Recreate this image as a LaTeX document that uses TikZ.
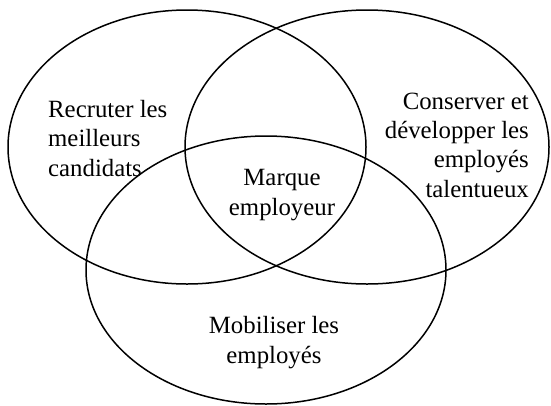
\documentclass[tikz,border=0pt]{standalone}
\usepackage{fontspec}
\setmainfont{Liberation Serif}
\begin{document}
\begin{tikzpicture}[x=1pt,y=-1pt,
  ring/.style={draw=black,line width=1.5pt},
  label/.style={inner sep=0pt,font=\fontsize{24.8}{29.3}\selectfont}]
  \useasboundingbox (0,0) rectangle (551,405);
  % the three overlapping sets
  \path[ring] (187,147) ellipse [x radius=179pt, y radius=137pt];
  \path[ring] (367,147) ellipse [x radius=182pt, y radius=137pt];
  \path[ring] (266,270) ellipse [x radius=180pt, y radius=134pt];
  % set labels (anchored on the baseline of the last line)
  \node[label,align=left,anchor=base west] (recruter) at (48,176)
    {Recruter les\\meilleurs\\candidats};
  \node[label,align=right,anchor=base east] (conserver) at (529,197)
    {Conserver et\\développer les\\employés\\talentueux};
  \node[label,align=center,anchor=base] (marque) at (282,215)
    {Marque\\employeur};
  \node[label,align=center,anchor=base] (mobiliser) at (274,363)
    {Mobiliser les\\employés};
\end{tikzpicture}
\end{document}
